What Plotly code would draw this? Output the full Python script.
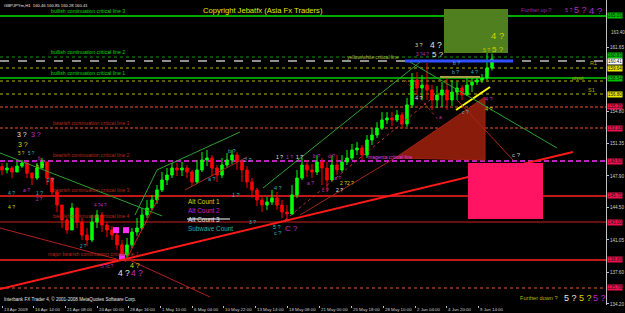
import plotly.graph_objects as go

# ---------------- data ----------------
first_open = 148.90
closes = [148.54, 148.75, 148.32, 148.96, 149.29, 148.18, 147.68, 148.75, 149.39, 147.68,
          146.18, 144.79, 143.19, 142.12, 144.47, 142.97, 141.58, 141.05, 142.97, 143.72,
          142.65, 142.12, 141.58, 140.52, 139.44, 140.52, 141.90, 142.33, 143.72, 144.47,
          145.33, 146.40, 147.47, 148.00, 148.75, 148.54, 148.75, 148.32, 147.25, 148.54,
          149.61, 149.82, 148.75, 148.00, 149.07, 149.61, 150.14, 149.39, 148.54, 147.25,
          146.40, 145.33, 144.79, 145.11, 145.54, 144.79, 144.04, 143.83, 145.86, 147.68,
          149.07, 148.54, 148.32, 149.39, 148.75, 147.47, 149.07, 148.54, 149.39, 149.82,
          150.68, 150.89, 150.14, 151.75, 152.28, 153.02, 153.89, 154.10, 153.89, 154.42,
          153.46, 155.50, 158.17, 157.31, 157.63, 157.10, 156.03, 156.56, 157.10, 156.03,
          156.88, 157.31, 156.56, 157.63, 157.95, 158.17, 158.38, 159.45, 160.41]
highs = [149.29, 149.29, 148.96, 149.39, 149.61, 149.39, 148.32, 149.29, 149.82, 149.39,
         147.68, 146.40, 144.79, 143.40, 145.00, 144.47, 143.40, 142.33, 143.72, 144.26,
         144.04, 142.97, 142.54, 141.90, 141.05, 141.26, 142.33, 143.40, 144.47, 145.33,
         145.86, 146.93, 148.32, 148.75, 149.29, 149.29, 149.39, 149.07, 148.54, 149.61,
         150.46, 150.68, 150.14, 149.07, 149.82, 150.36, 150.68, 150.46, 149.61, 148.96,
         147.68, 146.61, 145.76, 145.65, 146.40, 146.18, 145.33, 144.79, 146.93, 148.54,
         149.82, 149.61, 149.18, 150.14, 149.82, 149.39, 150.14, 150.14, 150.14, 150.68,
         151.33, 151.53, 151.21, 152.28, 153.02, 153.65, 154.74, 154.74, 154.74, 154.96,
         154.74, 156.24, 158.92, 159.02, 158.70, 159.99, 157.63, 157.52, 157.95, 158.38,
         158.17, 157.95, 157.63, 158.38, 158.49, 158.60, 158.81, 161.06, 161.00]
lows = [147.98, 148.18, 147.68, 148.32, 148.75, 147.68, 146.93, 147.47, 148.75, 146.93,
        145.76, 144.04, 142.33, 141.69, 142.12, 142.33, 141.05, 140.41, 140.83, 142.33,
        141.90, 141.37, 141.05, 139.98, 139.12, 139.12, 140.19, 141.48, 142.12, 143.40,
        144.26, 144.90, 146.18, 146.93, 147.68, 147.89, 147.89, 147.68, 146.83, 147.04,
        148.32, 148.96, 147.89, 147.25, 147.68, 148.75, 149.18, 148.54, 147.25, 146.61,
        145.54, 144.68, 144.04, 144.26, 144.79, 144.26, 143.40, 143.08, 143.72, 145.54,
        147.47, 147.79, 147.68, 148.00, 146.93, 146.20, 147.30, 148.00, 148.32, 149.07,
        149.61, 150.14, 149.61, 149.82, 151.21, 151.96, 152.82, 153.46, 153.25, 153.67,
        153.03, 153.14, 155.17, 156.56, 156.03, 156.03, 154.96, 155.17, 155.28, 154.96,
        155.38, 156.03, 156.03, 156.45, 156.88, 157.63, 157.85, 158.17, 159.20]
opens = [first_open] + closes[:-1]
bars = list(range(len(closes)))

date_labels = ["13 Apr 2009", "16 Apr 14:00", "21 Apr 08:00", "24 Apr 00:00", "28 Apr 16:00",
               "1 May 10:00", "6 May 04:00", "10 May 22:00", "13 May 14:00", "18 May 08:00",
               "21 May 00:00", "25 May 18:00", "28 May 10:00", "2 Jun 04:00", "4 Jun 20:00",
               "9 Jun 14:00"]
date_pos = [0, 6.2, 12.6, 19.0, 25.2, 31.6, 38.0, 44.2, 50.6, 57.0, 63.4, 69.8, 76.2, 82.6, 88.8, 95.2]
price_ticks = [134.20, 137.60, 141.05, 144.50, 147.90, 151.35, 154.80, 161.65]

# horizontal level lines (price)
levels = [165.02, 160.63, 160.20, 159.45, 158.38, 158.06, 156.67, 155.28, 153.03,
          149.50, 145.76, 142.97, 138.91, 135.91]
# price boxes on the right axis: (price, label)
box_prices = [165.02, 160.84, 160.20, 159.45, 158.38, 156.67, 155.28, 153.03, 149.50,
              145.76, 142.97, 138.91, 135.91]
box_texts = ["165.03", "160.83", "160.41", "159.64", "158.54", "156.80", "155.35", "153.18",
             "149.50", "145.75", "143.00", "138.80", "135.78"]

# trendlines (bar index, price) -> (bar index, price)
trend_x0 = [-0.4, -0.4, -0.4, 24.6, 26.6, 31.0, 36.6, 24.6, 52.2, 56.6, 59.6, 90.8, 87.6, 80.6, 91.0, 80.6, 81.6]
trend_y0 = [135.80, 150.36, 142.33, 139.12, 143.72, 148.54, 146.40, 138.69, 146.61, 143.19, 143.72, 154.96, 158.49, 160.20, 156.03, 158.17, 160.09]
trend_x1 = [114.2, 32.0, 23.6, 41.6, 31.0, 47.6, 49.0, 31.6, 83.6, 85.6, 78.6, 97.6, 95.6, 102.2, 102.2, 87.6, 111.0]
trend_y1 = [150.46, 143.62, 138.91, 134.95, 148.54, 152.60, 149.93, 145.86, 160.09, 156.03, 149.82, 157.42, 158.49, 160.20, 149.61, 153.67, 150.89]

# square markers
sq_x = [22.8, 24.8, 24.0]
sq_y = [142.10, 142.10, 139.20]

# ---------------- styles ----------------
FONT = "Liberation Sans, Arial, sans-serif"
PW, PH = 606, 305
GREEN = "#00d800"
BROWN = "#b42a18"
MAG = "#c030c8"
CYAN = "#30b8c0"
YEL = "#d8d800"
WHITE = "#e6e6e6"

level_styles = [
    ("#00e000", 1.5, "solid"), ("#00a000", 1, "dot"), ("#909090", 2, "dash"),
    ("#b8b800", 1, "dot"), ("#00c800", 1.5, "solid"), ("#b8b800", 1, "dot"),
    ("#b8b800", 1, "dot"), ("#a03818", 1.5, "3px,2px"), ("#a03818", 1.5, "3px,2px"),
    ("#c020c0", 2, "5px,3px"), ("#ff2020", 1.5, "solid"), ("#d02020", 1.2, "solid"),
    ("#ff2020", 1.5, "solid"), ("#a03818", 1.5, "dot"),
]
trend_styles = [
    ("#ff1a1a", 2, "solid"), ("#30a030", 1, "solid"), ("#b02020", 1, "solid"),
    ("#b02020", 1, "solid"), ("#30a030", 1, "solid"), ("#30a030", 1, "solid"),
    ("#a03020", 1, "solid"), ("#d02020", 1, "solid"), ("#30a030", 1, "solid"),
    ("#c03030", 1, "dot"), ("#a02818", 1, "solid"), ("#ffff00", 2, "solid"),
    ("#a8a040", 2, "solid"), ("#3050ff", 3, "solid"), ("#b02020", 1, "solid"),
    ("#b02020", 1, "dot"), ("#30a030", 1, "solid"),
]
box_colors = ["#00c000", "#00c000", "#ffffff", "#e8e800", "#00c000", "#e8e800", "#f01050",
              "#f01050", "#f01050", "#f01050", "#f01050", "#f01050", "#f01050"]

fig = go.Figure()
fig.add_trace(go.Candlestick(
    x=bars, open=opens, high=highs, low=lows, close=closes,
    increasing=dict(line=dict(color="#00ff00", width=1), fillcolor="#00ff00"),
    decreasing=dict(line=dict(color="#ff0000", width=1), fillcolor="#ff0000"),
    whiskerwidth=0, hoverinfo="skip"))
fig.add_trace(go.Scatter(x=sq_x, y=sq_y, mode="markers",
                         marker=dict(symbol="square", size=6, color="#ff30ff"), hoverinfo="skip"))

shapes = []
shapes.append(dict(type="rect", xref="x", yref="y", x0=88.4, x1=101.2, y0=161.06, y1=165.76,
                   fillcolor="#4f7f1e", line=dict(width=0), layer="below"))
shapes.append(dict(type="path", xref="x", yref="y",
                   path="M 78.6,149.82 L 96.6,156.35 L 96.6,149.61 Z",
                   fillcolor="#8a1c0c", line=dict(color="#a02010", width=1), layer="below"))
for p, (c, w, d) in zip(levels, level_styles):
    shapes.append(dict(type="line", xref="paper", yref="y", x0=0, x1=1, y0=p, y1=p,
                       line=dict(color=c, width=w, dash=d), layer="below"))
for x0, y0, x1, y1, (c, w, d) in zip(trend_x0, trend_y0, trend_x1, trend_y1, trend_styles):
    shapes.append(dict(type="line", xref="x", yref="y", x0=x0, y0=y0, x1=x1, y1=y1,
                       line=dict(color=c, width=w, dash=d), layer="above"))
shapes.append(dict(type="rect", xref="x", yref="y", x0=93.2, x1=108.2, y0=143.29, y1=149.29,
                   fillcolor="#ff1464", line=dict(width=0), layer="above"))
shapes.append(dict(type="line", xref="paper", yref="paper", x0=187 / PW, x1=230 / PW,
                   y0=1 - 219 / PH, y1=1 - 219 / PH, line=dict(color="#ffffff", width=1)))

anns = []


def txt(px, py, s, color, size, xanchor="center", yanchor="middle"):
    anns.append(dict(xref="paper", yref="paper", x=px / PW, y=1 - py / PH, text=s,
                     showarrow=False, xanchor=xanchor, yanchor=yanchor, borderpad=0,
                     font=dict(family=FONT, color=color, size=size)))


txt(3, 5, "GBPJPYm,H1  160.46 160.85 160.28 160.41", WHITE, 4.2, "left")
txt(3, 299, "Interbank FX Trader 4, © 2001-2008 MetaQuotes Software Corp.", WHITE, 4.6, "left")
txt(263, 10, "Copyright Jebatfx (Asia Fx Traders)", "#e8e800", 7.6)
for py, s in [(11, "bullish continuation critical line 3"), (52, "bullish continuation critical line 2"),
              (73, "bullish continuation critical line 1")]:
    txt(88, py, s, GREEN, 5.2)
for py, s in [(123, "bearish continuation critical line 1"), (155, "bearish continuation critical line 2"),
              (190, "bearish continuation critical line 3"), (216, "bearish continuation critical line 4")]:
    txt(91, py, s, BROWN, 5.2)
txt(93, 254, "major bearish continuation critical line 1", BROWN, 5.2)
txt(373, 57, "yellow/white critical line", "#b8b840", 5)
txt(390, 157, "magenta critical line", "#e040e0", 5)
txt(187, 201, "Alt Count 1", YEL, 6.4, "left")
txt(187, 210, "Alt Count 2", "#d020d0", 6.4, "left")
txt(187, 219, "Alt Count 3", WHITE, 6.4, "left")
txt(187, 228, "Subwave Count", "#20b0b0", 6.4, "left")
txt(593, 63, "R1", "#b0b000", 5.5)
txt(578, 78, "pivot", "#b0b000", 5.5)
txt(591, 90, "S1", "#b0b000", 5.5)
txt(536, 10, "Further up ?", "#a020b0", 5.6)
txt(569, 10, "5 ?", "#b030c0", 5.5)
txt(580, 10, "5 ?", "#b030c0", 9)
txt(595, 10, "4 ?", "#b030c0", 9.5)
txt(539, 298, "Further down ?", "#b8b800", 5.6)
txt(570, 298, "5 ?", WHITE, 9)
txt(585, 298, "5 ?", YEL, 9)
txt(599, 298, "5 ?", "#c020d0", 9)

# date labels along the time axis (left aligned at each tick)
for pos, lab in zip(date_pos, date_labels):
    anns.append(dict(xref="x", yref="paper", x=pos, y=-7.5 / PH, text=lab, showarrow=False,
                     xanchor="left", yanchor="bottom", borderpad=0, xshift=1,
                     font=dict(family=FONT, color="#d0d0d0", size=4.4)))

wave_labels = [
    (419, 45, "3 ?", "#d8d8a0", 5.5), (436, 45, "4 ?", WHITE, 8.5),
    (422, 55, "3 ?4 ?", MAG, 4.6), (438, 55, "5 ?", WHITE, 8),
    (498, 36, "4 ?", "#d4d400", 9.5), (486, 50, "5 ?", "#c8c800", 5), (498, 50, "5 ?", "#d4d400", 8),
    (456, 63, "b ?", "#60b0e0", 5), (455, 72, "b ?", CYAN, 5), (474, 72, "4 ?", CYAN, 5),
    (419, 98, "4 ?", WHITE, 5.5), (489, 99, "4 ?", MAG, 5.5), (440, 117, "a", MAG, 5),
    (465, 112, "c ?", CYAN, 5), (489, 109, "4 ?", YEL, 5.5),
    (22, 134, "3 ?", WHITE, 7), (36, 134, "3 ?", MAG, 7), (23, 144, "3 ?", YEL, 7),
    (21, 153, "5 ?", YEL, 4.6), (31, 153, "5 ?", CYAN, 4.6), (40, 158, "b", MAG, 5),
    (40, 166, "b ?", YEL, 5.5), (50, 180, "2 ?", CYAN, 5), (26, 190, "a ?", MAG, 5),
    (11, 193, "4 ?", CYAN, 5), (40, 193, "1 ?", CYAN, 5), (40, 199, "2 ?", MAG, 4.5),
    (11, 207, "4 ?", YEL, 5), (100, 205, "4 ?4 ?", MAG, 4.5), (83, 246, "2 ?", CYAN, 4.5),
    (107, 266, "5 ?c ?", MAG, 4.5), (124, 273, "4 ?", WHITE, 8.5), (137, 273, "4 ?", MAG, 8.5),
    (135, 265, "4 ?", YEL, 7),
    (232, 151, "b ?", CYAN, 5.5), (212, 179, "a ?", CYAN, 5.5), (248, 160, "2 ?", CYAN, 5.5),
    (236, 195, "1 ?", CYAN, 5.5), (278, 188, "4 ?", CYAN, 5.5),
    (279, 157, "1 ?", WHITE, 5), (289, 157, "1 ?", MAG, 5), (299, 157, "1 ?", WHITE, 5),
    (317, 156, "b ?", MAG, 5), (331, 156, "d ?", MAG, 5), (310, 183, "a ?", MAG, 5),
    (337, 178, "a ?", MAG, 5), (347, 183, "2 ?2 ?", YEL, 5), (325, 190, "c ?", MAG, 5),
    (339, 190, "2 ?", WHITE, 5), (252, 222, "3 ?", CYAN, 5), (277, 227, "5 ?", CYAN, 5.5),
    (277, 233, "c ?", CYAN, 5.5), (291, 228, "C ?", MAG, 8), (516, 155, "c ?", "#c0c0c0", 6),
]
for px, py, s, c, sz in wave_labels:
    txt(px, py, s, c, sz)

for p, s, bg in zip(box_prices, box_texts, box_colors):
    anns.append(dict(xref="paper", yref="y", x=1.0, y=p, xshift=1, text=s, showarrow=False,
                     xanchor="left", yanchor="middle", bgcolor=bg, borderpad=0,
                     font=dict(family=FONT, color="#101010", size=4.5)))
anns.append(dict(xref="paper", yref="y", x=1.0, y=163.20, xshift=3, text="163.40", showarrow=False,
                 xanchor="left", yanchor="middle", font=dict(family=FONT, color="#c8c8c8", size=4.5)))

fig.update_layout(
    width=625, height=313, margin=dict(l=0, r=19, t=0, b=8),
    paper_bgcolor="#000000", plot_bgcolor="#000000", showlegend=False,
    shapes=shapes, annotations=anns,
    xaxis=dict(range=[-0.4, 120.8], showgrid=False, zeroline=False, rangeslider=dict(visible=False),
               tickvals=date_pos, showticklabels=False,
               ticks="outside", ticklen=2, tickcolor="#c0c0c0", automargin=False, showline=False),
    yaxis=dict(range=[134.09, 166.73], side="right", showgrid=False, zeroline=False,
               tickvals=price_ticks, tickformat=".2f", ticks="outside", ticklen=2,
               tickcolor="#c0c0c0", showline=True, linecolor="#c0c0c0", linewidth=1,
               automargin=False, tickfont=dict(family=FONT, color="#d0d0d0", size=4.6)),
)
fig.write_html("out.html")
